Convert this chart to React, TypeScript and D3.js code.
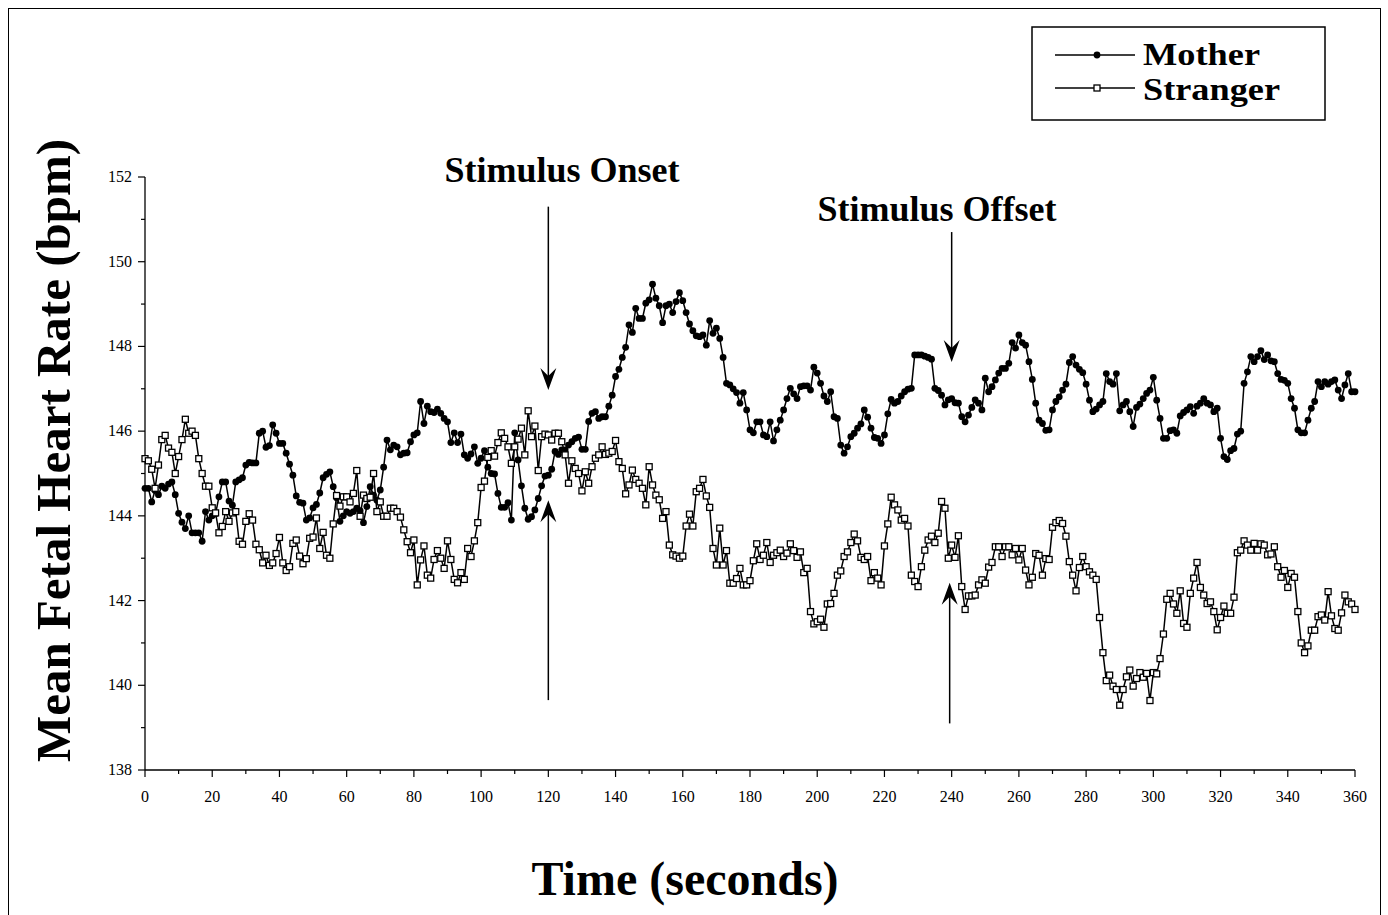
import * as d3 from "d3";
import React from "react";

// mean fetal heart rate, one reading per second (0..360 s)
const motherBpm = [
  144.65, 144.65, 144.33, 144.6, 144.5, 144.7, 144.65, 144.75, 144.8, 144.5,
  144.06, 143.85, 143.7, 144.0, 143.6, 143.6, 143.6, 143.4, 144.1, 143.9,
  144.0, 144.05, 144.45, 144.8, 144.8, 144.35, 144.25, 144.8, 144.85, 144.9,
  145.2, 145.26, 145.25, 145.25, 145.95, 146.0, 145.62, 145.66, 146.15, 145.95,
  145.71, 145.71, 145.48, 145.22, 144.96, 144.47, 144.32, 144.3, 143.9, 143.95,
  144.19, 144.27, 144.54, 144.9, 144.98, 145.04, 144.69, 144.43, 143.87, 144.0,
  144.1, 144.06, 144.1, 144.18, 144.12, 143.84, 144.22, 144.69, 144.49, 144.37,
  144.61, 145.15, 145.79, 145.56, 145.67, 145.63, 145.44, 145.48, 145.49, 145.75,
  145.91, 145.96, 146.7, 146.18, 146.59, 146.46, 146.44, 146.52, 146.42, 146.3,
  146.22, 145.73, 145.96, 145.73, 145.93, 145.44, 145.36, 145.46, 145.63, 145.24,
  145.36, 145.54, 145.15, 145.0, 144.99, 144.53, 144.2, 144.2, 144.31, 143.9,
  145.96, 145.32, 144.71, 144.18, 143.92, 143.98, 144.14, 144.41, 144.71, 144.94,
  144.96, 145.1, 145.52, 145.45, 145.56, 145.56, 145.67, 145.75, 145.83, 145.86,
  145.57, 145.57, 146.23, 146.42, 146.46, 146.3, 146.34, 146.34, 146.59, 146.85,
  147.29, 147.46, 147.74, 147.98, 148.51, 148.33, 148.9, 148.66, 148.66, 149.02,
  149.1, 149.47, 149.14, 148.96, 148.56, 148.96, 149.0, 148.8, 149.06, 149.27,
  149.08, 148.8, 148.53, 148.37, 148.25, 148.23, 148.27, 148.03, 148.61, 148.31,
  148.43, 148.19, 147.74, 147.13, 147.09, 147.0, 146.91, 146.66, 146.91, 146.5,
  146.03, 145.96, 146.22, 146.22, 145.91, 145.87, 146.22, 145.77, 146.03, 146.26,
  146.5, 146.77, 147.01, 146.88, 146.77, 147.05, 147.07, 147.07, 146.97, 147.51,
  147.37, 147.13, 146.83, 146.7, 146.93, 146.34, 146.3, 145.67, 145.48, 145.63,
  145.87, 145.95, 146.07, 146.17, 146.5, 146.33, 146.07, 145.85, 145.83, 145.71,
  145.91, 146.41, 146.75, 146.66, 146.7, 146.83, 146.93, 146.99, 147.01, 147.8,
  147.8, 147.8, 147.77, 147.74, 147.7, 147.01, 146.96, 146.85, 146.62, 146.74,
  146.77, 146.67, 146.66, 146.34, 146.22, 146.38, 146.56, 146.74, 146.66, 146.5,
  147.25, 146.93, 147.05, 147.21, 147.37, 147.48, 147.48, 147.6, 148.09, 147.96,
  148.27, 148.09, 148.03, 147.64, 147.22, 146.66, 146.26, 146.18, 146.02, 146.03,
  146.5, 146.7, 146.81, 146.97, 147.11, 147.62, 147.76, 147.56, 147.46, 147.38,
  147.11, 146.73, 146.46, 146.52, 146.62, 146.7, 147.36, 147.17, 147.11, 147.36,
  146.48, 146.62, 146.7, 146.46, 146.11, 146.56, 146.64, 146.77, 146.89, 146.97,
  147.27, 146.73, 146.3, 145.83, 145.83, 146.01, 146.03, 145.95, 146.36, 146.44,
  146.5, 146.58, 146.42, 146.59, 146.66, 146.77, 146.66, 146.62, 146.46, 146.54,
  145.83, 145.4, 145.33, 145.54, 145.59, 145.93, 146.0, 147.13, 147.4, 147.76,
  147.64, 147.76, 147.9, 147.69, 147.8, 147.66, 147.64, 147.36, 147.22, 147.2,
  147.13, 146.77, 146.54, 146.03, 145.96, 145.96, 146.26, 146.54, 146.7, 147.17,
  147.05, 147.17, 147.11, 147.17, 147.21, 146.97, 146.77, 147.09, 147.36, 146.93,
  146.93,
];

const strangerBpm = [
  145.35, 145.3, 145.1, 144.65, 145.2, 145.8, 145.9, 145.6, 145.5, 145.0,
  145.4, 145.8, 146.28, 145.95, 146.0, 145.9, 145.35, 145.0, 144.7, 144.7,
  144.19, 144.07, 143.6, 143.75, 144.1, 143.87, 144.07, 144.1, 143.4, 143.33,
  143.87, 144.05, 143.9, 143.33, 143.2, 142.89, 143.07, 142.83, 142.89, 143.11,
  143.49, 142.89, 142.71, 142.8, 143.35, 143.43, 143.05, 142.87, 142.99, 143.47,
  143.5, 143.95, 143.23, 143.61, 143.07, 143.0, 143.81, 144.48, 144.23, 144.45,
  144.45, 144.33, 144.53, 145.07, 143.99, 144.49, 144.41, 144.44, 145.0, 144.1,
  144.33, 143.99, 143.99, 144.18, 144.18, 144.1, 143.97, 143.67, 143.39, 143.13,
  143.43, 142.37, 142.96, 143.29, 142.6, 142.53, 142.97, 143.18, 143.0, 142.76,
  143.41, 142.97, 142.5, 142.42, 142.66, 142.5, 143.23, 143.04, 143.41, 143.84,
  144.67, 144.82, 145.38, 145.54, 145.41, 145.73, 145.96, 145.83, 145.63, 145.24,
  145.63, 145.81, 146.07, 145.44, 146.48, 145.87, 146.12, 145.07, 145.87, 145.93,
  145.91, 145.79, 145.95, 145.95, 145.75, 145.44, 144.77, 145.3, 145.12, 145.0,
  144.59, 145.04, 144.77, 145.16, 145.36, 145.44, 145.63, 145.45, 145.48, 145.52,
  145.78, 145.28, 145.12, 144.52, 144.73, 145.08, 144.86, 144.77, 144.65, 144.26,
  145.16, 144.73, 144.49, 144.38, 143.94, 144.1, 143.31, 143.08, 143.05, 143.0,
  143.05, 143.76, 144.04, 143.76, 144.57, 144.65, 144.86, 144.47, 144.2, 143.23,
  142.84, 143.71, 142.84, 143.18, 142.41, 142.41, 142.52, 142.76, 142.37, 142.37,
  142.47, 142.94, 143.34, 142.97, 143.07, 143.37, 142.9, 143.07, 143.13, 143.19,
  143.04, 143.12, 143.34, 143.18, 143.02, 143.15, 142.66, 142.76, 141.74, 141.45,
  141.5, 141.56, 141.37, 141.92, 141.93, 142.17, 142.6, 142.7, 143.04, 143.15,
  143.37, 143.57, 143.41, 143.02, 142.97, 143.04, 142.47, 142.66, 142.53, 142.37,
  143.29, 143.81, 144.44, 144.26, 144.14, 143.9, 143.94, 143.76, 142.6, 142.45,
  142.33, 142.8, 143.19, 143.43, 143.52, 143.37, 143.59, 144.34, 144.18, 143.0,
  143.31, 143.02, 143.53, 142.33, 141.79, 142.11, 142.11, 142.13, 142.37, 142.49,
  142.41, 142.79, 142.9, 143.27, 143.27, 143.04, 143.27, 143.27, 143.08, 143.23,
  142.96, 143.23, 142.72, 142.37, 142.55, 143.11, 143.07, 142.6, 142.99, 142.97,
  143.73, 143.84, 143.89, 143.82, 143.52, 142.92, 142.6, 142.23, 142.78, 143.04,
  142.8, 142.68, 142.6, 142.5, 141.6, 140.77, 140.11, 140.24, 139.98, 139.9,
  139.53, 139.9, 140.2, 140.36, 139.98, 140.16, 140.3, 140.19, 140.28, 139.64,
  140.3, 140.27, 140.63, 141.21, 142.03, 142.17, 141.92, 141.7, 142.23, 141.46,
  141.37, 142.17, 142.53, 142.9, 142.31, 142.13, 141.93, 141.97, 141.74, 141.31,
  141.6, 141.87, 141.7, 141.7, 142.08, 143.13, 143.19, 143.41, 143.31, 143.19,
  143.35, 143.19, 143.34, 143.31, 143.08, 143.1, 143.27, 142.8, 142.55, 142.71,
  142.31, 142.64, 142.55, 141.74, 141.0, 140.77, 140.93, 141.3, 141.3, 141.62,
  141.66, 141.54, 142.21, 141.64, 141.34, 141.3, 141.71, 142.13, 141.97, 141.92,
  141.79,
];

const xTickLabels = [0, 20, 40, 60, 80, 100, 120, 140, 160, 180, 200, 220, 240, 260, 280, 300, 320, 340, 360];
const xMinorTicks = [10, 30, 50, 70, 90, 110, 130, 150, 170, 190, 210, 230, 250, 270, 290, 310, 330, 350];
const yTickLabels = [138, 140, 142, 144, 146, 148, 150, 152];
const yMinorTicks = [139, 141, 143, 145, 147, 149, 151];

const onsetTime = 120;
const offsetTime = 240;

const serif = "'Liberation Serif', 'Times New Roman', serif";

function arrowHead(x: number, y: number, dir: number) {
  // dir = 1 points down, -1 points up
  const l = 22, w = 8, n = 14;
  return `M${x},${y} L${x - w},${y - dir * l} L${x},${y - dir * n} L${x + w},${y - dir * l} Z`;
}

export default function App() {
  const width = 1388, height = 915;
  const x = d3.scaleLinear().domain([0, 360]).range([145, 1355]);
  const y = d3.scaleLinear().domain([138, 152]).range([770, 177]);

  const line = d3.line<number>()
    .x((_, i) => x(i))
    .y(d => y(d));

  const legendX = 1032, legendY = 27;

  return (
    <svg width={width} height={height}
      style={{ position: "absolute", left: 0, top: 0, background: "#fff" }}
      fontFamily={serif}>
      <rect x={8.5} y={8.5} width={1372} height={920} fill="none" stroke="#000" strokeWidth={1} />

      {/* axes */}
      <line x1={x(0)} x2={x(0)} y1={y(152)} y2={y(138)} stroke="#000" strokeWidth={1.3} />
      <line x1={x(0)} x2={x(360)} y1={y(138)} y2={y(138)} stroke="#000" strokeWidth={1.3} />
      {yTickLabels.map(v => (
        <g key={"y" + v}>
          <line x1={x(0) - 7} x2={x(0)} y1={y(v)} y2={y(v)} stroke="#000" strokeWidth={1.2} />
          <text x={x(0) - 13} y={y(v) + 5} textAnchor="end" fontSize={16}>{v}</text>
        </g>
      ))}
      {yMinorTicks.map(v => (
        <line key={"ym" + v} x1={x(0) - 4} x2={x(0)} y1={y(v)} y2={y(v)} stroke="#000" strokeWidth={1.2} />
      ))}
      {xTickLabels.map(v => (
        <g key={"x" + v}>
          <line x1={x(v)} x2={x(v)} y1={y(138)} y2={y(138) + 7} stroke="#000" strokeWidth={1.2} />
          <text x={x(v)} y={y(138) + 32} textAnchor="middle" fontSize={16}>{v}</text>
        </g>
      ))}
      {xMinorTicks.map(v => (
        <line key={"xm" + v} x1={x(v)} x2={x(v)} y1={y(138)} y2={y(138) + 4} stroke="#000" strokeWidth={1.2} />
      ))}

      {/* titles */}
      <text transform={`translate(70,${(y(152) + y(138)) / 2 - 23}) rotate(-90)`} textAnchor="middle"
        fontSize={49} fontWeight="bold">Mean Fetal Heart Rate (bpm)</text>
      <text x={685} y={895} textAnchor="middle" fontSize={48} fontWeight="bold">Time (seconds)</text>

      {/* series */}
      <path d={line(motherBpm) || ""} fill="none" stroke="#000" strokeWidth={1.5} />
      {motherBpm.map((v, i) => (
        <circle key={"m" + i} cx={x(i)} cy={y(v)} r={3.4} fill="#000" />
      ))}
      <path d={line(strangerBpm) || ""} fill="none" stroke="#000" strokeWidth={1.5} />
      {strangerBpm.map((v, i) => (
        <rect key={"s" + i} x={x(i) - 3} y={y(v) - 3} width={6} height={6} fill="#fff" stroke="#000" strokeWidth={1.3} />
      ))}

      {/* stimulus annotations */}
      <text x={562} y={182} textAnchor="middle" fontSize={36} fontWeight="bold">Stimulus Onset</text>
      <line x1={x(onsetTime)} x2={x(onsetTime)} y1={y(151.3)} y2={y(146.97) - 12} stroke="#000" strokeWidth={1.5} />
      <path d={arrowHead(x(onsetTime), y(146.97), 1)} fill="#000" />
      <line x1={x(onsetTime)} x2={x(onsetTime)} y1={y(139.65)} y2={y(144.37) + 12} stroke="#000" strokeWidth={1.5} />
      <path d={arrowHead(x(onsetTime), y(144.37), -1)} fill="#000" />

      <text x={937} y={221} textAnchor="middle" fontSize={36} fontWeight="bold">Stimulus Offset</text>
      <line x1={x(offsetTime)} x2={x(offsetTime)} y1={y(150.7)} y2={y(147.63) - 12} stroke="#000" strokeWidth={1.5} />
      <path d={arrowHead(x(offsetTime), y(147.63), 1)} fill="#000" />
      <line x1={x(offsetTime) - 2} x2={x(offsetTime) - 2} y1={y(139.1)} y2={y(142.42) + 12} stroke="#000" strokeWidth={1.5} />
      <path d={arrowHead(x(offsetTime) - 2, y(142.42), -1)} fill="#000" />

      {/* legend */}
      <rect x={legendX} y={legendY} width={293} height={93} fill="#fff" stroke="#000" strokeWidth={1.5} />
      <line x1={legendX + 23} x2={legendX + 103} y1={legendY + 28} y2={legendY + 28} stroke="#000" strokeWidth={1.5} />
      <circle cx={legendX + 65} cy={legendY + 28} r={3.4} fill="#000" />
      <text x={legendX + 111} y={legendY + 38} fontSize={32} fontWeight="bold"
        textLength={117} lengthAdjust="spacingAndGlyphs">Mother</text>
      <line x1={legendX + 23} x2={legendX + 103} y1={legendY + 61} y2={legendY + 61} stroke="#000" strokeWidth={1.5} />
      <rect x={legendX + 62} y={legendY + 58} width={6} height={6} fill="#fff" stroke="#000" strokeWidth={1.3} />
      <text x={legendX + 111} y={legendY + 73} fontSize={32} fontWeight="bold"
        textLength={137} lengthAdjust="spacingAndGlyphs">Stranger</text>
    </svg>
  );
}
